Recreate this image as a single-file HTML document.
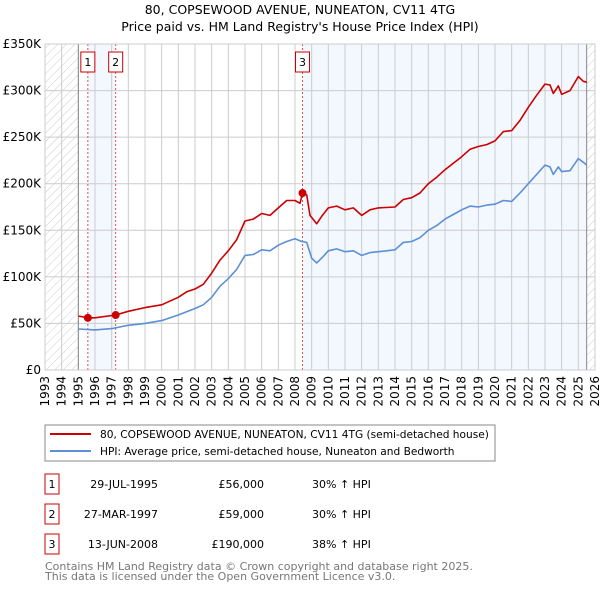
<!DOCTYPE html>
<html><head><meta charset="utf-8"><style>
body{margin:0;background:#fff;font-family:"DejaVu Sans","Liberation Sans",sans-serif;}
svg text{font-family:"DejaVu Sans","Liberation Sans",sans-serif;}
</style></head><body>
<svg id="c" width="600" height="590" xmlns="http://www.w3.org/2000/svg">
<defs><pattern id="hatch" width="6" height="6" patternUnits="userSpaceOnUse" patternTransform="rotate(45)"><line x1="0" y1="0" x2="0" y2="6" stroke="#ccc" stroke-width="1"/></pattern></defs>
<text x="300" y="14" text-anchor="middle" font-size="12.5">80, COPSEWOOD AVENUE, NUNEATON, CV11 4TG</text>
<text x="300" y="31" text-anchor="middle" font-size="12.5">Price paid vs. HM Land Registry's House Price Index (HPI)</text>
<g id="plot"></g>
<rect x="45" y="425" width="450" height="36" fill="#fff" stroke="#888"/>
<line x1="50" y1="434" x2="91" y2="434" stroke="#cc0000" stroke-width="2"/>
<text x="100" y="438" font-size="10.6">80, COPSEWOOD AVENUE, NUNEATON, CV11 4TG (semi-detached house)</text>
<line x1="50" y1="451" x2="91" y2="451" stroke="#5b8fd6" stroke-width="2"/>
<text x="100" y="455" font-size="10.6">HPI: Average price, semi-detached house, Nuneaton and Bedworth</text>
<g id="table" font-size="11"></g>
<text x="45" y="570" font-size="11" fill="#777">Contains HM Land Registry data © Crown copyright and database right 2025.</text>
<text x="45" y="580" font-size="11" fill="#777">This data is licensed under the Open Government Licence v3.0.</text>
</svg>
<script>
const hpiYears=[1995,1996,1997,1998,1999,2000,2001,2002,2002.5,2003,2003.5,2004,2004.5,2005,2005.5,2006,2006.5,2007,2007.5,2008,2008.4,2008.7,2009,2009.3,2009.7,2010,2010.5,2011,2011.5,2012,2012.5,2013,2014,2014.5,2015,2015.5,2016,2016.5,2017,2017.5,2018,2018.5,2019,2019.5,2020,2020.5,2021,2021.5,2022,2022.5,2023,2023.3,2023.5,2023.8,2024,2024.5,2025,2025.3,2025.5];
const hpiValues=[44,43,44.5,48,50,53,59,66,70,78,90,98,108,123,124,129,128,134,138,141,138,137,120,115,122,128,130,127,128,123,126,127,129,137,138,142,150,155,162,167,172,176,175,177,178,182,181,190,200,210,220,218,210,218,213,214,227,223,220];
const propYears=[1995,1995.57,1996,1997.24,1998,1999,2000,2001,2001.5,2002,2002.5,2003,2003.5,2004,2004.5,2005,2005.5,2006,2006.5,2007,2007.5,2008,2008.3,2008.45,2008.7,2008.9,2009.3,2009.6,2010,2010.5,2011,2011.5,2012,2012.5,2013,2014,2014.5,2015,2015.5,2016,2016.5,2017,2017.5,2018,2018.5,2019,2019.5,2020,2020.5,2021,2021.5,2022,2022.5,2023,2023.3,2023.5,2023.8,2024,2024.5,2025,2025.3,2025.5];
const propValues=[58,56,56,59,63,67,70,78,84,87,92,104,118,128,140,160,162,168,166,174,182,182,179,190,188,166,157,165,174,176,172,174,166,172,174,175,183,185,190,200,207,215,222,229,237,240,242,246,256,257,268,282,295,307,306,297,305,296,300,315,310,309];
const saleYears=[1995.57,1997.24,2008.45];
const saleValues=[56,59,190];
const saleLabels=["1","2","3"];
const saleDates=["29-JUL-1995","27-MAR-1997","13-JUN-2008"];
const salePrices=["£56,000","£59,000","£190,000"];
const saleDiffs=["30% ↑ HPI","30% ↑ HPI","38% ↑ HPI"];
const yTicks=[0,50,100,150,200,250,300,350];
const yTickLabels=["£0","£50K","£100K","£150K","£200K","£250K","£300K","£350K"];
const xTicks=[1993,1994,1995,1996,1997,1998,1999,2000,2001,2002,2003,2004,2005,2006,2007,2008,2009,2010,2011,2012,2013,2014,2015,2016,2017,2018,2019,2020,2021,2022,2023,2024,2025,2026];

const NS="http://www.w3.org/2000/svg";
const X0=45,X1=595,Y0=370,Y1=44;
const xs=y=>X0+(y-1993)/(2026-1993)*(X1-X0);
const ys=v=>Y0-v/350*(Y0-Y1);
const plot=document.getElementById('plot');
function mk(tag,attrs,parent){const e=document.createElementNS(NS,tag);for(const k in attrs)e.setAttribute(k,attrs[k]);(parent||plot).appendChild(e);return e;}

let e=mk('rect',{x:X0,y:Y1,width:X1-X0,height:Y0-Y1,fill:'#fff'});


e=mk('rect',{x:xs(saleYears[0]),y:Y1,width:xs(saleYears[1])-xs(saleYears[0]),height:Y0-Y1,fill:'#f3f7fe'});


e=mk('rect',{x:xs(saleYears[2]),y:Y1,width:xs(2025.5)-xs(saleYears[2]),height:Y0-Y1,fill:'#f3f7fe'});


e=mk('rect',{x:X0,y:Y1,width:xs(1995)-X0,height:Y0-Y1,fill:'url(#hatch)'});


e=mk('rect',{x:xs(2025.5),y:Y1,width:X1-xs(2025.5),height:Y0-Y1,fill:'url(#hatch)'});



xTicks.forEach(t=>{
  const g=mk('line',{x1:xs(t),x2:xs(t),y1:Y1,y2:Y0,stroke:'#ccc','stroke-width':1});
  
  
  const tx=mk('text',{x:0,y:0,'font-size':12,'text-anchor':'end',transform:`translate(${xs(t)+4},${Y0+6}) rotate(-90)`});
  tx.textContent=t;
  
  
});
yTicks.forEach((t,i)=>{
  const g=mk('line',{x1:X0,x2:X1,y1:ys(t),y2:ys(t),stroke:'#ccc','stroke-width':1});
  
  
  const tx=mk('text',{x:41,y:ys(t)+4,'font-size':12,'text-anchor':'end'});
  tx.textContent=yTickLabels[i];
  
  
});
e=mk('line',{x1:xs(1995),x2:xs(1995),y1:Y1,y2:Y0,stroke:'#888'});


e=mk('line',{x1:xs(2025.5),x2:xs(2025.5),y1:Y1,y2:Y0,stroke:'#888'});



saleYears.forEach((s,i)=>{
  const l=mk('line',{x1:xs(s),x2:xs(s),y1:Y1,y2:Y0,stroke:'#e05050','stroke-dasharray':'2,2','stroke-width':1});
  
  
  const b=mk('rect',{x:xs(s)-7,y:Y1+8,width:14,height:20,fill:'#fff',stroke:'#cc0000'});
  
  
  const t=mk('text',{x:xs(s),y:Y1+22,'font-size':11,'text-anchor':'middle'});
  t.textContent=saleLabels[i];
  
  
});

const pathOf=(xsArr,vArr)=>xsArr.map((y,i)=>(i?'L':'M')+xs(y).toFixed(1)+','+ys(vArr[i]).toFixed(1)).join('');
e=mk('path',{d:pathOf(hpiYears,hpiValues),fill:'none',stroke:'#5b8fd6','stroke-width':1.6,'stroke-linejoin':'round'});


e=mk('path',{d:pathOf(propYears,propValues),fill:'none',stroke:'#cc0000','stroke-width':1.6,'stroke-linejoin':'round'});


saleYears.forEach((s,i)=>{
  const c=mk('circle',{cx:xs(s),cy:ys(saleValues[i]),r:4,fill:'#cc0000'});
  
  
});
e=mk('rect',{x:X0,y:Y1,width:X1-X0,height:Y0-Y1,fill:'none',stroke:'#ccc'});



const tbl=document.getElementById('table');
saleLabels.forEach((lab,i)=>{
  const cy=484+i*30;
  const b=mk('rect',{x:45,y:cy-10,width:14,height:20,fill:'#fff',stroke:'#cc0000'},tbl);
  
  
  const cells=[[52,'middle',lab],[158,'end',saleDates[i]],[264,'end',salePrices[i]],[312,'start',saleDiffs[i]]];
  cells.forEach(([x,a,txt],j)=>{
    const t=mk('text',{x:x,y:cy+4,'text-anchor':a},tbl);
    t.textContent=txt;
    
    
  });
});
</script>
</body></html>
